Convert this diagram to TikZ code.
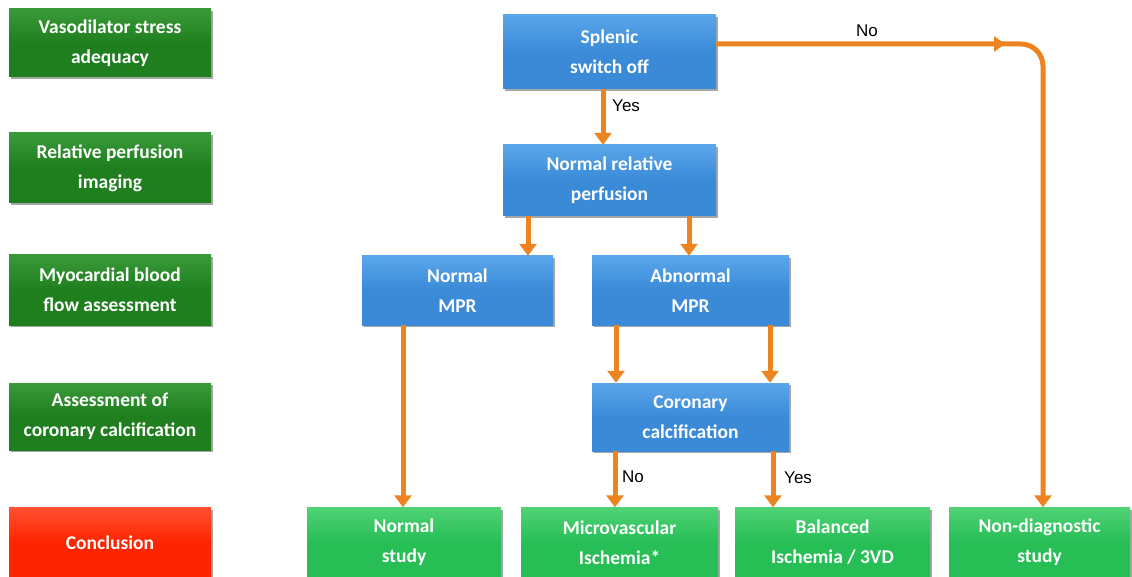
\documentclass[tikz,border=0pt]{standalone}
\usepackage{fontspec}
\setmainfont{Carlito}
\newfontfamily\labelfont{Liberation Sans}
\usetikzlibrary{arrows.meta,decorations.markings,shadows}
\definecolor{dkgreen}{HTML}{1F7F1F}
\definecolor{dkgreentop}{HTML}{3A9A3A}
\definecolor{bluebox}{HTML}{3A8AD8}
\definecolor{blueboxtop}{HTML}{5AA6EA}
\definecolor{ltgreen}{HTML}{26BE55}
\definecolor{ltgreentop}{HTML}{4FD276}
\definecolor{redbox}{HTML}{FF2400}
\definecolor{redboxtop}{HTML}{FF5030}
\definecolor{arroworange}{HTML}{EC8420}
\tikzset{
  box/.style={rectangle, inner sep=0pt, align=center, text=white,
    font=\fontsize{19.5}{30}\selectfont\bfseries,
    drop shadow={shadow xshift=1.5pt, shadow yshift=-2pt, opacity=0.35, fill=black}},
  rowbox/.style={box, top color=dkgreentop, bottom color=dkgreen, middle color=dkgreen,
    minimum width=202pt},
  stepbox/.style={box, top color=blueboxtop, bottom color=bluebox, middle color=bluebox},
  endbox/.style={box, top color=ltgreentop, bottom color=ltgreen, middle color=ltgreen,
    minimum height=70pt},
  redrow/.style={box, top color=redboxtop, bottom color=redbox, middle color=redbox,
    minimum width=202pt, minimum height=70pt},
  flow/.style={draw=arroworange, line width=5pt,
    -{Triangle[width=17pt,length=12pt]}},
  lbl/.style={font=\labelfont\fontsize{17}{20}\selectfont, text=black, inner sep=0pt, anchor=west}
}
\begin{document}
\begin{tikzpicture}[x=1pt,y=-1pt]
\useasboundingbox (0,0) rectangle (1132,577);
% left column
\node[rowbox, minimum height=68pt] (r1) at (110,43) {Vasodilator stress\\adequacy};
\node[rowbox, minimum height=70pt] (r2) at (110,168) {Relative perfusion\\imaging};
\node[rowbox, minimum height=70pt] (r3) at (110,290) {Myocardial blood\\flow assessment};
\node[rowbox, minimum height=67pt] (r4) at (110,416.5) {Assessment of\\coronary calcification};
\node[redrow] (r5) at (110,542.5) {Conclusion};
% flow boxes
\node[stepbox, minimum width=213pt, minimum height=74pt] (spl) at (609.5,52) {Splenic\\switch off};
\node[stepbox, minimum width=213pt, minimum height=71pt] (perf) at (609.5,180.5) {Normal relative\\perfusion};
\node[stepbox, minimum width=191pt, minimum height=69pt] (nmpr) at (457.5,290.5) {Normal\\MPR};
\node[stepbox, minimum width=197pt, minimum height=69pt] (ampr) at (690.5,290.5) {Abnormal\\MPR};
\node[stepbox, minimum width=197pt, minimum height=68pt] (cor) at (690.5,417) {Coronary\\calcification};
% conclusions
\node[endbox, minimum width=194pt] (ns) at (404,542.5) {Normal\\study};
\node[endbox, minimum width=197pt] (mi) at (619.5,542.5) {Microvascular\\Ischemia*};
\node[endbox, minimum width=195pt] (bi) at (832.5,542.5) {Balanced\\Ischemia / 3VD};
\node[endbox, minimum width=181pt] (nd) at (1039.5,542.5) {Non-diagnostic\\study};
% connectors
\draw[flow] (spl.south -| 603,0) -- (perf.north -| 603,0);
\node[lbl] (yes1) at (612,106) {Yes};
\draw[flow] (perf.south -| 528,0) -- (nmpr.north -| 528,0);
\draw[flow] (perf.south -| 689,0) -- (ampr.north -| 689,0);
\draw[flow] (nmpr.south -| 403,0) -- (ns.north -| 403,0);
\draw[flow] (ampr.south -| 616,0) -- (cor.north -| 616,0);
\draw[flow] (ampr.south -| 770,0) -- (cor.north -| 770,0);
\draw[flow] (cor.south -| 615,0) -- (mi.north -| 615,0);
\node[lbl] (no2) at (622,477) {No};
\draw[flow] (cor.south -| 773,0) -- (bi.north -| 773,0);
\node[lbl] (yes2) at (784,478) {Yes};
\coordinate (corner) at (1043,44);
\draw[flow, rounded corners=22pt,
  postaction={decorate, decoration={markings,
    mark=at position 0.37 with {\arrow{Triangle[width=15pt,length=11pt,fill=arroworange]}}}}]
  (spl.east |- corner) -- (corner) -- (nd.north -| corner);
\node[lbl] (no1) at (856,31) {No};
\end{tikzpicture}
\end{document}
